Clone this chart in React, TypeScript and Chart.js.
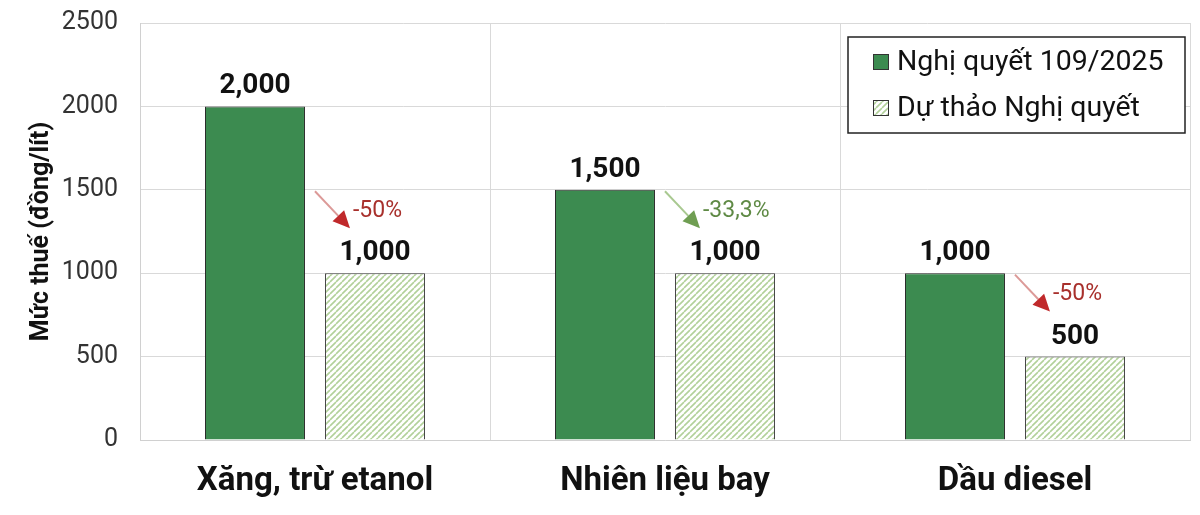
import React, { useEffect, useRef } from "react";
import { Chart, registerables } from "chart.js";

Chart.register(...registerables);

const categories = ["Xăng, trừ etanol", "Nhiên liệu bay", "Dầu diesel"];
const resolution109 = [2000, 1500, 1000];
const draftResolution = [1000, 1000, 500];
const changeLabels = ["-50%", "-33,3%", "-50%"];
const changeTextColors = ["#a8302c", "#5f8a45", "#a8302c"];
const changeLineColors = ["#dc9a98", "#a9c991", "#dc9a98"];
const changeHeadColors = ["#c0292b", "#6f9e52", "#c0292b"];
const seriesNames = ["Nghị quyết 109/2025", "Dự thảo Nghị quyết"];
const yMax = 2500;
const yStep = 500;

const FONT = "Roboto, 'Noto Sans', sans-serif";
const GREEN = "#3c8b50";

function makeHatch(): CanvasPattern | string {
  const c = document.createElement("canvas");
  c.width = 6;
  c.height = 6;
  const ctx = c.getContext("2d");
  if (!ctx) return "#cfe3bf";
  ctx.fillStyle = "#ffffff";
  ctx.fillRect(0, 0, 6, 6);
  ctx.strokeStyle = "#b2d19a";
  ctx.lineWidth = 1.6;
  ctx.beginPath();
  for (let k = -6; k <= 12; k += 6) {
    ctx.moveTo(k, 6);
    ctx.lineTo(k + 6, 0);
  }
  ctx.stroke();
  const p = ctx.createPattern(c, "repeat");
  return p || "#cfe3bf";
}

export default function App() {
  const ref = useRef<HTMLCanvasElement | null>(null);

  useEffect(() => {
    if (!ref.current) return;
    const hatch = makeHatch();

    const overlay = {
      id: "overlay",
      afterDatasetsDraw(chart: any) {
        const ctx = chart.ctx;
        const m0 = chart.getDatasetMeta(0);
        const m1 = chart.getDatasetMeta(1);
        ctx.save();
        // value labels
        ctx.fillStyle = "#111";
        ctx.font = `bold 28px ${FONT}`;
        ctx.textAlign = "center";
        ctx.textBaseline = "middle";
        [m0, m1].forEach((meta: any, di: number) => {
          const vals = di === 0 ? resolution109 : draftResolution;
          meta.data.forEach((el: any, i: number) => {
            ctx.fillText(vals[i].toLocaleString("en-US"), el.x, el.y - 20);
          });
        });
        // arrows
        m1.data.forEach((el: any, i: number) => {
          const g = m0.data[i];
          const gRight = g.x + g.width / 2;
          const sx = gRight + 10;
          const sy = el.y - 82;
          const tx = sx + 35;
          const ty = el.y - 45;
          const ang = Math.atan2(ty - sy, tx - sx);
          const headLen = 17;
          const hx = tx - headLen * Math.cos(ang);
          const hy = ty - headLen * Math.sin(ang);
          ctx.strokeStyle = changeLineColors[i];
          ctx.lineWidth = 2;
          ctx.beginPath();
          ctx.moveTo(sx, sy);
          ctx.lineTo(hx, hy);
          ctx.stroke();
          ctx.fillStyle = changeHeadColors[i];
          const w = 8;
          ctx.beginPath();
          ctx.moveTo(tx, ty);
          ctx.lineTo(hx + w * Math.sin(ang), hy - w * Math.cos(ang));
          ctx.lineTo(hx - w * Math.sin(ang), hy + w * Math.cos(ang));
          ctx.closePath();
          ctx.fill();
          ctx.fillStyle = changeTextColors[i];
          ctx.font = `23px ${FONT}`;
          ctx.textAlign = "left";
          ctx.textBaseline = "middle";
          ctx.fillText(changeLabels[i], tx + 3, el.y - 62);
        });
        // legend
        const area = chart.chartArea;
        const bx = area.right - 342;
        const by = area.top + 14;
        const bw = 337;
        const bh = 96;
        ctx.fillStyle = "#ffffff";
        ctx.fillRect(bx, by, bw, bh);
        ctx.strokeStyle = "#222";
        ctx.lineWidth = 1.5;
        ctx.strokeRect(bx, by, bw, bh);
        const fills = [GREEN, hatch];
        seriesNames.forEach((name, i) => {
          const cy = by + 25 + i * 46;
          ctx.fillStyle = fills[i] as any;
          ctx.fillRect(bx + 25, cy - 8, 16, 16);
          ctx.strokeStyle = "#333";
          ctx.lineWidth = 1;
          ctx.strokeRect(bx + 25.5, cy - 7.5, 15, 15);
          ctx.fillStyle = "#111";
          ctx.font = `28.5px ${FONT}`;
          ctx.textAlign = "left";
          ctx.textBaseline = "middle";
          ctx.fillText(name, bx + 49, cy + 1);
        });
        ctx.restore();
      },
    };

    const chart = new Chart(ref.current, {
      type: "bar",
      data: {
        labels: categories,
        datasets: [
          {
            label: seriesNames[0],
            data: resolution109,
            backgroundColor: GREEN,
            borderColor: "#2b2b2b",
            borderWidth: 1,
            categoryPercentage: 0.686,
            barPercentage: 0.833,
          },
          {
            label: seriesNames[1],
            data: draftResolution,
            backgroundColor: hatch as any,
            borderColor: "#444",
            borderWidth: 1,
            categoryPercentage: 0.686,
            barPercentage: 0.833,
          },
        ],
      },
      options: {
        animation: false,
        responsive: false,
        maintainAspectRatio: false,
        layout: { padding: { top: 23, right: 10, left: 0, bottom: 0 } },
        plugins: {
          legend: { display: false },
          tooltip: { enabled: false },
        },
        scales: {
          x: {
            grid: { color: "#d9d9d9", drawTicks: false, offset: true },
            border: { color: "#d0d0d0" },
            ticks: {
              color: "#111",
              font: { family: FONT, size: 33, weight: "bold" },
              padding: 22,
            },
            afterFit(scale: any) {
              scale.height = 75;
              scale.paddingLeft = 0;
              scale.paddingRight = 0;
            },
          },
          y: {
            min: 0,
            max: yMax,
            grid: { color: "#d9d9d9", drawTicks: false },
            border: { color: "#d0d0d0" },
            ticks: {
              stepSize: yStep,
              color: "#333",
              font: { family: FONT, size: 25 },
              padding: 22,
              callback: (v: any) => String(v),
            },
            title: {
              display: true,
              text: "Mức thuế (đồng/lít)",
              color: "#111",
              font: { family: FONT, size: 25, weight: "bold" },
              padding: { top: 27, bottom: 0 },
            },
            afterFit(scale: any) {
              scale.width = 140;
              scale.paddingTop = 0;
              scale.paddingBottom = 0;
            },
          },
        },
      },
      plugins: [overlay],
    });
    return () => chart.destroy();
  }, []);

  return (
    <div style={{ position: "fixed", left: 0, top: 0, width: 1200, height: 515, background: "#fff" }}>
      <canvas ref={ref} width={1200} height={515} style={{ display: "block" }} />
    </div>
  );
}
